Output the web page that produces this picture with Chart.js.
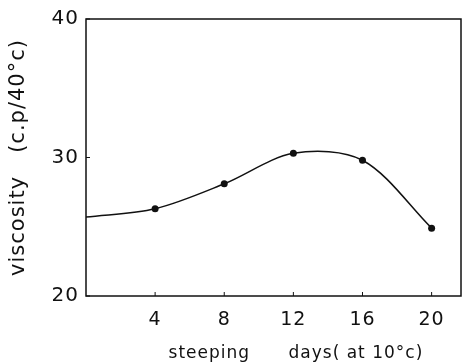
<!DOCTYPE html>
<html><head><meta charset="utf-8">
<script src="https://cdn.jsdelivr.net/npm/chart.js@4/dist/chart.umd.min.js"></script>
<style>html,body{margin:0;padding:0;background:#fff}#wrap{width:465px;height:364px}</style>
</head><body><div id="wrap"><canvas id="c" width="465" height="364"></canvas></div>
<script>
const days = [0, 4, 8, 12, 16, 20];
const viscosity = [25.7, 26.3, 28.1, 30.3, 29.8, 24.9];
const markerShown = [false, true, true, true, true, true];
const yTicks = [20, 30, 40];
const xTicks = [4, 8, 12, 16, 20];

const FONT = 'DejaVu Sans';
const ink = '#111';

const spacing = {
  id: 'spacing',
  beforeInit(chart) { chart.ctx.letterSpacing = '1px'; },
  beforeLayout(chart) { chart.ctx.letterSpacing = '1px'; },
  beforeDraw(chart) { chart.ctx.letterSpacing = '1px'; }
};

const frame = {
  id: 'frame',
  afterDatasetsDraw(chart) {
    const {ctx, chartArea: a, scales} = chart;
    ctx.save();
    ctx.strokeStyle = ink; ctx.lineWidth = 1.5;
    ctx.strokeRect(a.left, a.top, a.right - a.left, a.bottom - a.top);
    ctx.lineWidth = 1;
    xTicks.forEach(v => { const px = scales.x.getPixelForValue(v);
      ctx.beginPath(); ctx.moveTo(px, a.bottom); ctx.lineTo(px, a.bottom - 4); ctx.stroke(); });
    yTicks.forEach(v => { const py = scales.y.getPixelForValue(v);
      ctx.beginPath(); ctx.moveTo(a.left, py); ctx.lineTo(a.left + 4, py); ctx.stroke(); });
    ctx.restore();
  }
};

new Chart(document.getElementById('c'), {
  type: 'line',
  data: {
    datasets: [{
      data: days.map((d, i) => ({x: d, y: viscosity[i]})),
      borderColor: ink, borderWidth: 1.5,
      backgroundColor: ink,
      pointRadius: markerShown.map(s => s ? 3.5 : 0),
      pointBorderWidth: 0,
      tension: 0.32, fill: false
    }]
  },
  options: {
    responsive: false, animation: false,
    layout: {padding: {top: 14, right: 2, left: 0, bottom: 0}},
    plugins: {legend: {display: false}, tooltip: {enabled: false}},
    scales: {
      x: {
        type: 'linear', min: 0, max: 21.7,
        afterBuildTicks: s => { s.ticks = xTicks.map(v => ({value: v})); },
        afterFit: s => { s.height = 68; },
        grid: {display: false, drawTicks: false},
        border: {display: false},
        ticks: {color: ink, font: {family: FONT, size: 19}, padding: 13, maxRotation: 0},
        title: {display: true, text: '       steeping      days( at 10°c)', color: ink,
                font: {family: FONT, size: 17}, padding: {top: 1, bottom: 0}}
      },
      y: {
        min: 20, max: 40,
        afterBuildTicks: s => { s.ticks = yTicks.map(v => ({value: v})); },
        afterFit: s => { s.width = 86; },
        grid: {display: false, drawTicks: false},
        border: {display: false},
        ticks: {color: ink, font: {family: FONT, size: 20}, padding: 7},
        title: {display: true, text: 'viscosity   (c.p/40°c)', color: ink,
                font: {family: FONT, size: 21}, padding: {top: 6, bottom: 0}}
      }
    }
  },
  plugins: [spacing, frame]
});
</script></body></html>
